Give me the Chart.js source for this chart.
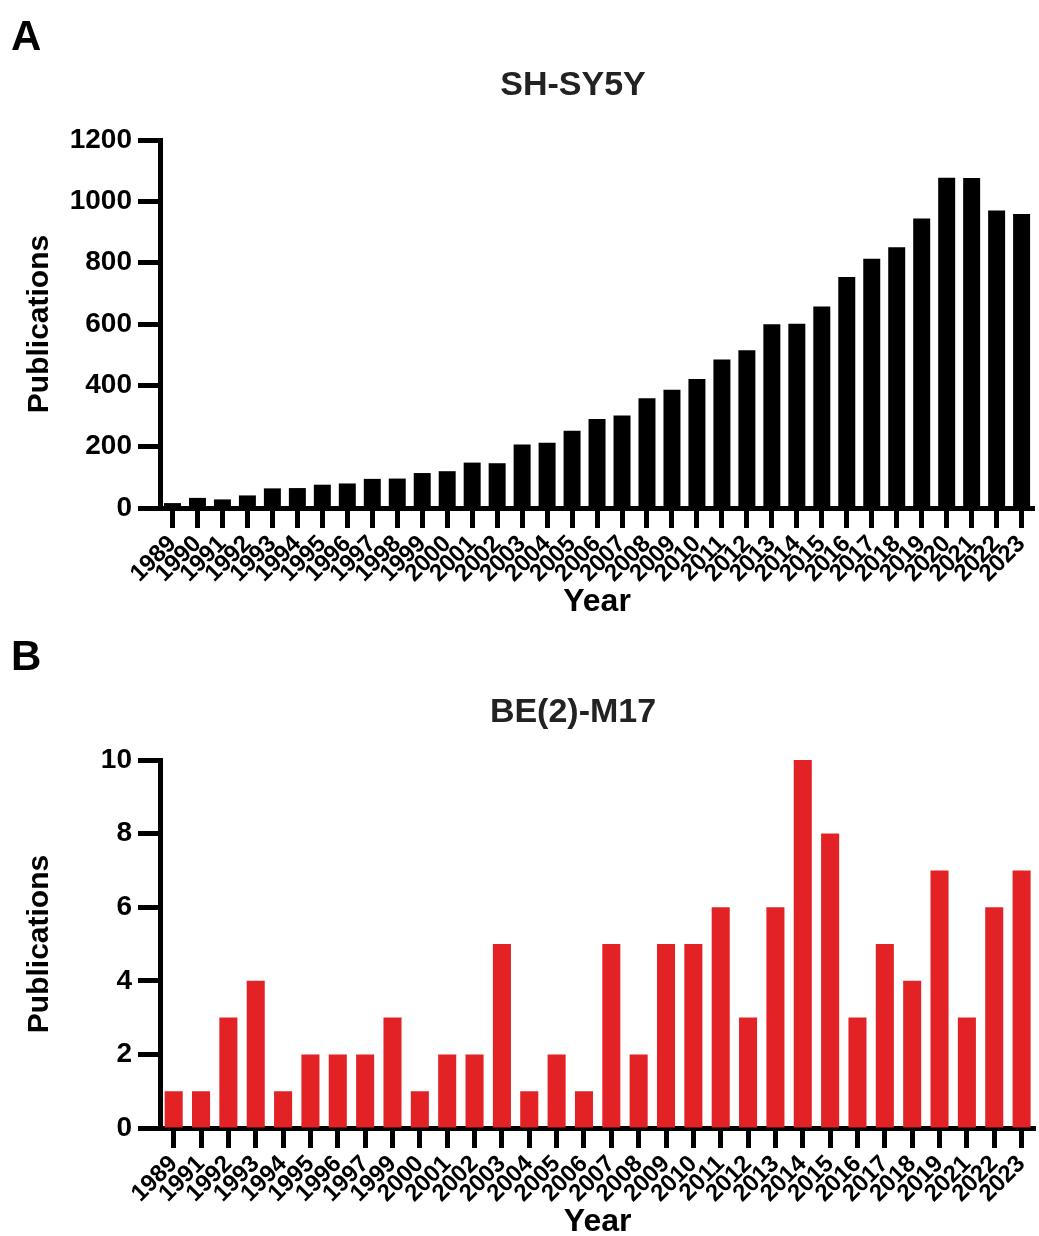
<!DOCTYPE html>
<html>
<head>
<meta charset="utf-8">
<script src="https://cdn.jsdelivr.net/npm/chart.js@4"></script>
<style>
  html, body { margin: 0; padding: 0; background: #fff; overflow: hidden; }
  .panel { position: absolute; left: 0; width: 1044px; height: 620px; }
  #panelA { top: 0; }
  #panelB { top: 620px; }
</style>
</head>
<body>
<div class="panel" id="panelA"><canvas id="graficoA" width="1044" height="620"></canvas></div>
<div class="panel" id="panelB"><canvas id="graficoB" width="1044" height="620"></canvas></div>
<script>
// SH-SY5Y
const aniosA = ["1989","1990","1991","1992","1993","1994","1995","1996","1997","1998",
  "1999","2000","2001","2002","2003","2004","2005","2006","2007","2008","2009","2010",
  "2011","2012","2013","2014","2015","2016","2017","2018","2019","2020","2021","2022","2023"];
const publicacionesA = [16, 33, 28, 41, 64, 65, 76, 80, 95, 96,
  114, 120, 148, 146, 207, 213, 252, 290, 302, 358, 386, 421,
  484, 514, 599, 601, 657, 753, 813, 850, 944, 1077, 1076, 970, 959];

// BE(2)-M17 (sin 1990, 1998, 2020)
const aniosB = ["1989","1991","1992","1993","1994","1995","1996","1997","1999","2000",
  "2001","2002","2003","2004","2005","2006","2007","2008","2009","2010","2011","2012",
  "2013","2014","2015","2016","2017","2018","2019","2021","2022","2023"];
const publicacionesB = [1, 1, 3, 4, 1, 2, 2, 2, 3, 1,
  2, 2, 5, 1, 2, 1, 5, 2, 5, 5, 6, 3,
  6, 10, 8, 3, 5, 4, 7, 3, 6, 7];

const FUENTE = '"Liberation Sans", Arial, Helvetica, sans-serif';

// letra del panel y titulo
const textoPanel = {
  id: "textoPanel",
  afterDraw(chart, args, opts) {
    const ctx = chart.ctx;
    ctx.save();
    ctx.textBaseline = "alphabetic";
    ctx.fillStyle = "#000";
    ctx.textAlign = "left";
    ctx.font = "bold 42px " + FUENTE;
    ctx.fillText(opts.letra, 11, 50);
    ctx.fillStyle = "#222";
    ctx.textAlign = "center";
    ctx.font = "bold 34px " + FUENTE;
    ctx.fillText(opts.titulo, opts.tituloX, opts.tituloY);
    ctx.restore();
  }
};

function crearGrafico(id, anios, valores, color, maxY, paso, letra, titulo, tituloY, ancho) {
  const ctx = document.getElementById(id).getContext("2d");
  return new Chart(ctx, {
    type: "bar",
    data: {
      labels: anios,
      datasets: [{
        data: valores,
        backgroundColor: color,
        borderWidth: 0,
        barPercentage: ancho,
        categoryPercentage: 1
      }]
    },
    options: {
      responsive: false,
      animation: false,
      devicePixelRatio: 1,
      layout: { padding: { top: 140, right: 3, left: 0, bottom: 0 } },
      plugins: {
        legend: { display: false },
        tooltip: { enabled: false },
        textoPanel: { letra: letra, titulo: titulo, tituloX: 573, tituloY: tituloY }
      },
      scales: {
        x: {
          offset: true,
          z: 1,
          grid: { display: true, offset: false, drawOnChartArea: false, drawTicks: true,
                  tickLength: 20, tickWidth: 5, tickColor: "#000" },
          border: { display: true, color: "#000", width: 5 },
          ticks: {
            color: "#000", autoSkip: false, minRotation: 45, maxRotation: 45, padding: 2,
            font: { family: FUENTE, size: 24, weight: "bold" }
          },
          title: {
            display: true, text: "Year", color: "#000",
            font: { family: FUENTE, size: 32, weight: "bold", lineHeight: 1.1 },
            padding: { top: 0, bottom: 0 }
          },
          afterFit(scale) { scale.height = 112; }
        },
        y: {
          min: 0,
          max: maxY,
          z: 1,
          grid: { display: true, drawOnChartArea: false, drawTicks: true,
                  tickLength: 22, tickWidth: 5, tickColor: "#000" },
          border: { display: true, color: "#000", width: 5 },
          ticks: {
            stepSize: paso, color: "#000", padding: 6,
            font: { family: FUENTE, size: 28, weight: "bold" },
            callback: v => String(v)
          },
          title: {
            display: true, text: "Publications", color: "#000",
            font: { family: FUENTE, size: 30, weight: "bold" },
            padding: { top: 22, bottom: 0 }
          },
          afterFit(scale) { scale.width = 160; }
        }
      }
    },
    plugins: [textoPanel]
  });
}

crearGrafico("graficoA", aniosA, publicacionesA, "#000000", 1200, 200, "A", "SH-SY5Y", 95, 0.68);
crearGrafico("graficoB", aniosB, publicacionesB, "#e32226", 10, 2, "B", "BE(2)-M17", 102, 0.66);
</script>
</body>
</html>
